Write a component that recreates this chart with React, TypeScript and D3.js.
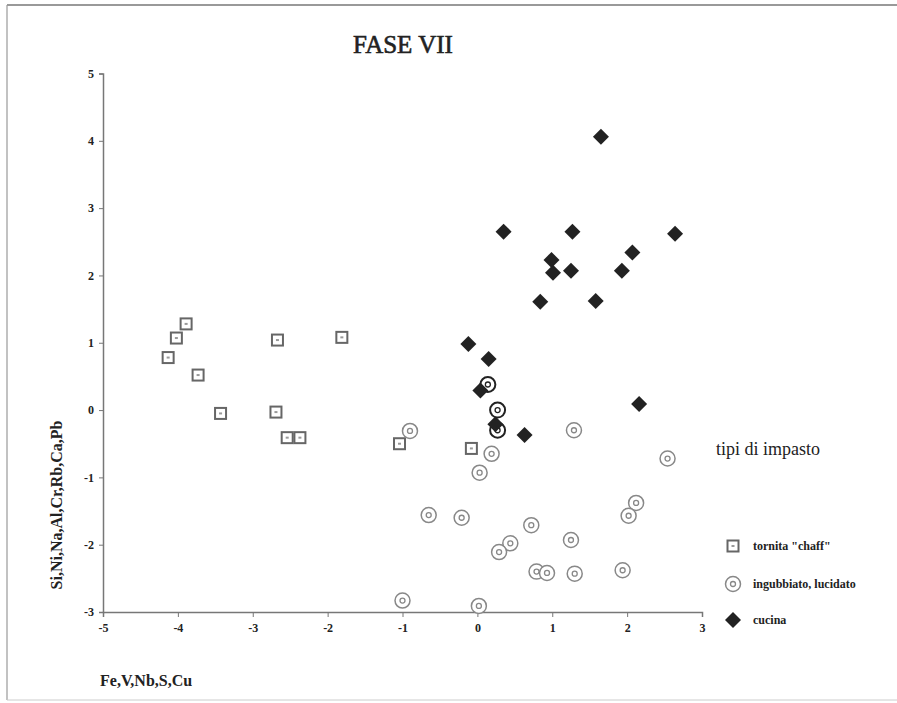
import React, { useEffect, useRef } from 'react';
import * as d3 from 'd3';

// tornita "chaff"
const chaffX = [-3.89, -4.02, -4.13, -3.73, -3.43, -2.67, -1.81, -2.69, -2.54, -2.37, -1.04, -0.08];
const chaffY = [1.28, 1.07, 0.78, 0.52, -0.05, 1.04, 1.08, -0.03, -0.41, -0.41, -0.5, -0.57];

// ingubbiato, lucidato
const ingubX = [-0.9, 0.14, 0.27, 0.27, 0.19, 0.03, 1.29, 2.54, -0.65, -0.21, 0.72, 0.44, 0.29, 1.25, 2.12, 2.02, 0.79, 0.93, 1.3, 1.94, -1.0, 0.02];
const ingubY = [-0.31, 0.38, 0.0, -0.3, -0.65, -0.93, -0.3, -0.72, -1.56, -1.6, -1.71, -1.98, -2.11, -1.93, -1.38, -1.57, -2.4, -2.42, -2.43, -2.38, -2.83, -2.91];
// the three circles printed darker in the original
const ingubDark = [false, true, true, true, false, false, false, false, false, false, false, false, false, false, false, false, false, false, false, false, false, false];

// cucina
const cucinaX = [1.65, 0.35, 1.27, 2.64, 2.07, 0.99, 1.01, 1.25, 1.93, 0.84, 1.58, -0.12, 0.15, 0.04, 2.16, 0.24, 0.63];
const cucinaY = [4.06, 2.65, 2.65, 2.62, 2.34, 2.23, 2.04, 2.07, 2.07, 1.61, 1.62, 0.98, 0.76, 0.29, 0.09, -0.21, -0.37];

const xTicks = [-5, -4, -3, -2, -1, 0, 1, 2, 3];
const yTicks = [-3, -2, -1, 0, 1, 2, 3, 4, 5];
const legendLabels = ['tornita "chaff"', 'ingubbiato, lucidato', 'cucina'];

const W = 897, H = 703;
const serif = '"Liberation Serif", "DejaVu Serif", serif';

export default function App() {
  const ref = useRef<SVGSVGElement>(null);

  useEffect(() => {
    const svg = d3.select(ref.current);
    svg.selectAll('*').remove();

    const x = d3.scaleLinear().domain([-5, 3]).range([103, 702]);
    const y = d3.scaleLinear().domain([-3, 5]).range([612, 73.5]);
    const fmt = (d: any) => String(d); // plain hyphen minus like the original

    // frame
    svg.append('rect').attr('width', W).attr('height', H).attr('fill', '#fff');
    svg.append('line').attr('x1', 7).attr('x2', 897).attr('y1', 5).attr('y2', 5)
      .attr('stroke', '#777').attr('stroke-width', 1.5);
    svg.append('line').attr('x1', 7).attr('x2', 7).attr('y1', 5).attr('y2', 700)
      .attr('stroke', '#999').attr('stroke-width', 1.2);
    svg.append('line').attr('x1', 7).attr('x2', 897).attr('y1', 700).attr('y2', 700)
      .attr('stroke', '#ccc').attr('stroke-width', 1);

    // title
    svg.append('text').attr('x', 403).attr('y', 53).attr('text-anchor', 'middle')
      .attr('font-family', serif).attr('font-size', 25).attr('fill', '#222')
      .attr('stroke', '#222').attr('stroke-width', 0.6)
      .text('FASE VII');

    // axes
    const gx = svg.append('g').attr('transform', `translate(0,${y(-3)})`)
      .call(d3.axisBottom(x).tickValues(xTicks).tickSize(5).tickPadding(6).tickFormat(fmt));
    const gy = svg.append('g').attr('transform', `translate(${x(-5)},0)`)
      .call(d3.axisLeft(y).tickValues(yTicks).tickSize(4).tickPadding(5).tickFormat(fmt));
    [gx, gy].forEach(g => {
      g.select('.domain').attr('stroke', '#777').attr('stroke-width', 1.5);
      g.selectAll('.tick line').attr('stroke', '#777');
      g.selectAll('.tick text').attr('font-family', serif).attr('font-size', 12)
        .attr('font-weight', 'bold').attr('fill', '#222');
    });

    // axis titles
    svg.append('text').attr('transform', 'translate(62,505) rotate(-90)')
      .attr('text-anchor', 'middle').attr('font-family', serif).attr('font-size', 16)
      .attr('font-weight', 'bold').attr('fill', '#222').text('Si,Ni,Na,Al,Cr,Rb,Ca,Pb');
    svg.append('text').attr('x', 100).attr('y', 686)
      .attr('font-family', serif).attr('font-size', 16).attr('font-weight', 'bold')
      .attr('fill', '#222').text('Fe,V,Nb,S,Cu');

    const square = (g: any, cx: number, cy: number) => {
      g.append('rect').attr('x', cx - 5.5).attr('y', cy - 5.5).attr('width', 11).attr('height', 11)
        .attr('fill', '#fff').attr('stroke', '#666').attr('stroke-width', 2);
      g.append('rect').attr('x', cx - 1.5).attr('y', cy - 1).attr('width', 3).attr('height', 2)
        .attr('fill', '#999');
    };
    const target = (g: any, cx: number, cy: number, dark: boolean) => {
      const c = dark ? '#222' : '#888';
      g.append('circle').attr('cx', cx).attr('cy', cy).attr('r', 7.5)
        .attr('fill', '#fff').attr('stroke', c).attr('stroke-width', dark ? 2 : 1.5);
      g.append('circle').attr('cx', cx).attr('cy', cy).attr('r', 2.5)
        .attr('fill', 'none').attr('stroke', c).attr('stroke-width', 1.3);
    };
    const diamond = (g: any, cx: number, cy: number) => {
      g.append('path').attr('d', `M${cx},${cy - 8}L${cx + 8},${cy}L${cx},${cy + 8}L${cx - 8},${cy}Z`)
        .attr('fill', '#222');
    };

    const pts = svg.append('g');
    chaffX.forEach((v, i) => square(pts, x(v), y(chaffY[i])));
    ingubX.forEach((v, i) => target(pts, x(v), y(ingubY[i]), ingubDark[i]));
    cucinaX.forEach((v, i) => diamond(pts, x(v), y(cucinaY[i])));

    // legend
    const lg = svg.append('g');
    lg.append('text').attr('x', 716).attr('y', 455).attr('font-family', serif)
      .attr('font-size', 18).attr('fill', '#222').text('tipi di impasto');
    const ly = [546, 584, 620];
    square(lg, 733, ly[0]);
    target(lg, 733, ly[1], false);
    diamond(lg, 733, ly[2]);
    legendLabels.forEach((t, i) => {
      lg.append('text').attr('x', 753).attr('y', ly[i] + 4).attr('font-family', serif)
        .attr('font-size', 12).attr('font-weight', 'bold').attr('fill', '#222').text(t);
    });
  }, []);

  return (
    <svg ref={ref} width={W} height={H}
      style={{ position: 'absolute', left: 0, top: 0, display: 'block' }} />
  );
}
